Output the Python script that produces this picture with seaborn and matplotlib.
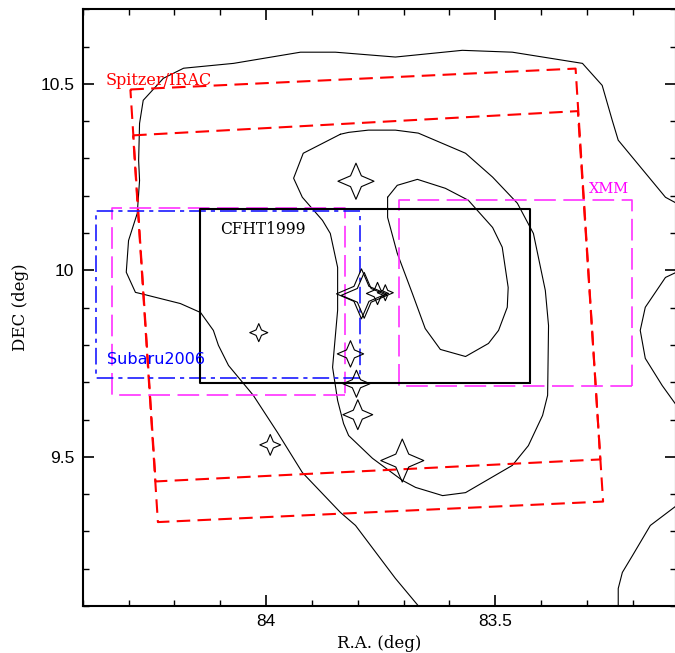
import numpy as np
import matplotlib
matplotlib.use("Agg")
import matplotlib.pyplot as plt
from matplotlib.path import Path
from matplotlib.ticker import MultipleLocator, FuncFormatter
import seaborn as sns

# ------------------------------------------------------------------ data
# Spitzer/IRAC footprints: two tilted frames, corners TL, TR, BR, BL (RA, DEC in deg)
irac1_ra = [84.296, 83.325, 83.271, 84.241]
irac1_dec = [10.485, 10.541, 9.493, 9.434]
irac2_ra = [84.290, 83.320, 83.265, 84.236]
irac2_dec = [10.362, 10.427, 9.380, 9.325]

# axis-aligned fields: [ra_lo, ra_hi], [dec_lo, dec_hi]
xmm_east_ra = [83.203, 83.711]
xmm_east_dec = [9.689, 10.188]
xmm_west_ra = [83.829, 84.337]
xmm_west_dec = [9.666, 10.166]
subaru_ra = [83.796, 84.370]
subaru_dec = [9.711, 10.159]
cfht_ra = [83.425, 84.145]
cfht_dec = [9.699, 10.164]

# contour lines (RA, DEC)
c1_ra = [83.105, 83.129, 83.232, 83.245, 83.267, 83.310, 83.463, 83.572, 83.718,
         83.849, 83.925, 84.071, 84.180, 84.224, 84.268, 84.276, 84.278, 84.276,
         84.281, 84.300, 84.305, 84.285, 84.268, 84.187, 84.143, 84.115, 84.104,
         84.082, 84.028, 83.975, 83.921, 83.838, 83.805, 83.718, 83.663]
c1_dec = [10.180, 10.196, 10.349, 10.402, 10.496, 10.555, 10.585, 10.590, 10.572,
          10.585, 10.585, 10.555, 10.542, 10.515, 10.456, 10.394, 10.295, 10.241,
          10.153, 10.080, 9.995, 9.941, 9.936, 9.911, 9.887, 9.839, 9.799,
          9.745, 9.665, 9.565, 9.458, 9.351, 9.316, 9.174, 9.093]

c2_ra = [83.838, 83.919, 83.940, 83.921, 83.877, 83.860, 83.844, 83.844, 83.855,
         83.844, 83.831, 83.820, 83.768, 83.703, 83.674, 83.615, 83.565, 83.463,
         83.428, 83.397, 83.386, 83.384, 83.391, 83.417, 83.452, 83.506, 83.565,
         83.668, 83.718, 83.777, 83.820, 83.838]
c2_dec = [10.365, 10.314, 10.247, 10.196, 10.134, 10.099, 10.008, 9.893, 9.740,
          9.651, 9.589, 9.557, 9.496, 9.437, 9.418, 9.396, 9.404, 9.477,
          9.530, 9.611, 9.665, 9.852, 9.946, 10.099, 10.180, 10.250, 10.314,
          10.368, 10.376, 10.376, 10.370, 10.365]

c3_ra = [83.735, 83.714, 83.670, 83.609, 83.559, 83.506, 83.485, 83.472, 83.474,
         83.493, 83.515, 83.565, 83.620, 83.653, 83.681, 83.714, 83.735, 83.735]
c3_dec = [10.196, 10.228, 10.244, 10.220, 10.188, 10.115, 10.062, 9.954, 9.901,
          9.839, 9.804, 9.769, 9.788, 9.844, 9.938, 10.046, 10.142, 10.196]

c4_ra = [83.105, 83.129, 83.173, 83.184, 83.173, 83.136, 83.105]
c4_dec = [9.995, 9.981, 9.901, 9.839, 9.764, 9.691, 9.638]

c5_ra = [83.105, 83.162, 83.201, 83.223, 83.232, 83.232]
c5_dec = [9.369, 9.316, 9.235, 9.190, 9.147, 9.093]

# stars
star_ra = [83.804, 83.792, 83.786, 83.757, 83.740, 83.816, 83.803, 83.800,
           83.703, 84.016, 83.991]
star_dec = [10.239, 9.937, 9.933, 9.938, 9.940, 9.776, 9.696, 9.613,
            9.490, 9.833, 9.532]
star_size = [26, 36, 33, 16, 11.5, 19, 19.5, 21.5, 31, 13, 15]  # tip-to-tip, points

# text labels
labels = ["Spitzer/IRAC", "CFHT1999", "Subaru2006", "XMM"]
label_ra = [84.350, 84.100, 84.348, 83.297]
label_dec = [10.496, 10.097, 9.748, 10.207]

# ------------------------------------------------------------------ style
sns.set_style("ticks")
plt.rcParams["font.family"] = ["DejaVu Serif"]
plt.rcParams["text.color"] = "black"
plt.rcParams["axes.labelcolor"] = "black"
plt.rcParams["xtick.color"] = "black"
plt.rcParams["ytick.color"] = "black"
plt.rcParams["axes.edgecolor"] = "black"

fig = plt.figure(figsize=(6.75, 6.53), dpi=100)
W, H = 675.0, 653.0
ax = fig.add_axes([82.7 / W, 1 - 606 / H, (676 - 82.7) / W, (606 - 9.3) / H])


def ring(ra, dec):
    return [ra[0], ra[1], ra[1], ra[0], ra[0]], [dec[0], dec[0], dec[1], dec[1], dec[0]]


def quad(ra, dec):
    return list(ra) + [ra[0]], list(dec) + [dec[0]]


line_kw = dict(sort=False, estimator=None, ax=ax, legend=False)

# contours
for cra, cdec in [(c1_ra, c1_dec), (c2_ra, c2_dec), (c3_ra, c3_dec),
                  (c4_ra, c4_dec), (c5_ra, c5_dec)]:
    sns.lineplot(x=cra, y=cdec, color="black", linewidth=0.8, **line_kw)

# Spitzer frames
for fra, fdec in [(irac1_ra, irac1_dec), (irac2_ra, irac2_dec)]:
    x, y = quad(fra, fdec)
    sns.lineplot(x=x, y=y, color="#ff0000", linewidth=1.5,
                 linestyle=(0, (6.5, 3.5)), **line_kw)

# XMM fields
for fra, fdec in [(xmm_east_ra, xmm_east_dec), (xmm_west_ra, xmm_west_dec)]:
    x, y = ring(fra, fdec)
    sns.lineplot(x=x, y=y, color="#ff30ff", linewidth=1.2,
                 linestyle=(0, (13, 4.5)), **line_kw)

# Subaru
x, y = ring(subaru_ra, subaru_dec)
sns.lineplot(x=x, y=y, color="#1a1aff", linewidth=1.2,
             linestyle=(0, (10, 3, 2.5, 3)), **line_kw)

# CFHT
x, y = ring(cfht_ra, cfht_dec)
sns.lineplot(x=x, y=y, color="black", linewidth=1.5, **line_kw)

# stars (4-pointed)
w = 0.3
star_path = Path(
    [(0, 1), (w, w), (1, 0), (w, -w), (0, -1), (-w, -w), (-1, 0), (-w, w), (0, 1)],
    [Path.MOVETO] + [Path.LINETO] * 7 + [Path.CLOSEPOLY])
sns.scatterplot(x=star_ra, y=star_dec, s=np.array(star_size) ** 2, marker=star_path,
                color="black", facecolors="none", edgecolors="black",
                linewidths=0.8, ax=ax, legend=False, zorder=5)

# labels
label_colors = ["#ff0000", "black", "#0000ff", "#ff00ff"]
label_sizes = [11.5, 11.2, 11.5, 10.5]
label_fams = [["DejaVu Serif"], ["DejaVu Serif"], ["DejaVu Sans"], ["DejaVu Serif"]]
for t, lra, ldec, col, fs, fam in zip(labels, label_ra, label_dec, label_colors,
                                      label_sizes, label_fams):
    ax.text(lra, ldec, t, color=col, fontsize=fs, family=fam,
            ha="left", va="baseline")

# axes
ax.set_xlim(84.4, 84.4 - 593.3 / 458.5)
ax.set_ylim(9.1, 10.7)
ax.xaxis.set_major_locator(MultipleLocator(0.5))
ax.xaxis.set_minor_locator(MultipleLocator(0.1))
ax.yaxis.set_major_locator(MultipleLocator(0.5))
ax.yaxis.set_minor_locator(MultipleLocator(0.1))
fmt = FuncFormatter(lambda v, p: f"{v:g}")
ax.xaxis.set_major_formatter(fmt)
ax.yaxis.set_major_formatter(fmt)
ax.tick_params(which="both", direction="in", top=True, right=True,
               labeltop=False, labelright=False, color="black", labelcolor="black")
ax.tick_params(which="major", length=8, width=1.2, pad=6)
ax.tick_params(which="minor", length=4.3, width=1.0)
for lab in ax.get_xticklabels() + ax.get_yticklabels():
    lab.set_family(["Liberation Sans"])
    lab.set_fontsize(12.5)
for sp in ax.spines.values():
    sp.set_linewidth(1.5)
    sp.set_color("black")

ax.set_xlabel("R.A. (deg)", fontsize=12, family=["DejaVu Serif"], labelpad=4,
              color="black")
ax.set_ylabel("DEC (deg)", fontsize=12, family=["DejaVu Serif"], labelpad=8,
              color="black")

fig.savefig("out.png", dpi=100)
